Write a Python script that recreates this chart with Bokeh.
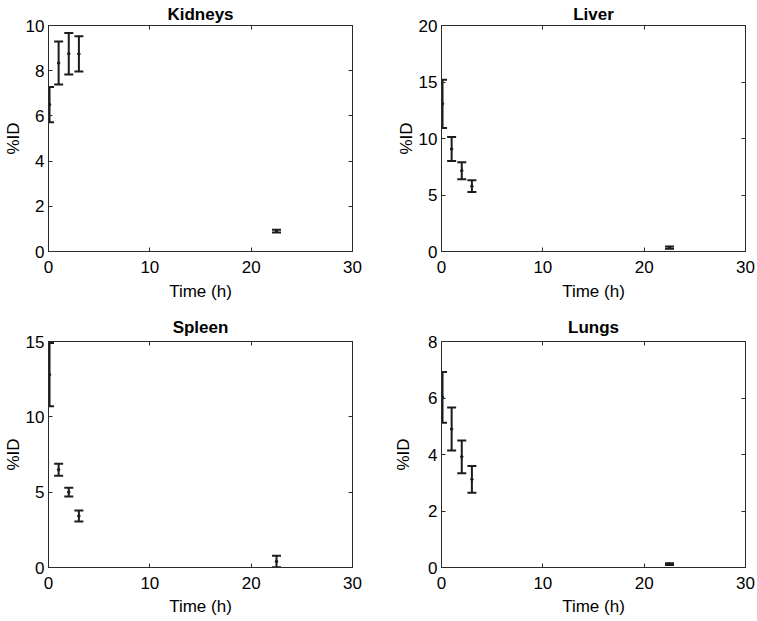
from bokeh.plotting import figure
from bokeh.models import (Range1d, FixedTicker, LinearAxis, Whisker, TeeHead,
                          ColumnDataSource)
from bokeh.layouts import row, column
from bokeh.embed import file_html
from bokeh.resources import INLINE

# ---------------- data ----------------
time_h = [0.1, 1, 2, 3, 22.5]
x_ticks = [0, 10, 20, 30]

kidneys_mean = [6.5, 8.34, 8.75, 8.74, 0.9]
kidneys_sd = [0.78, 0.95, 0.92, 0.78, 0.06]
kidneys_ticks = [0, 2, 4, 6, 8, 10]

liver_mean = [13.07, 9.07, 7.15, 5.78, 0.35]
liver_sd = [2.13, 1.07, 0.75, 0.52, 0.1]
liver_ticks = [0, 5, 10, 15, 20]

spleen_mean = [12.8, 6.49, 5.0, 3.42, 0.4]
spleen_sd = [2.1, 0.4, 0.29, 0.36, 0.38]
spleen_ticks = [0, 5, 10, 15]

lungs_mean = [6.02, 4.9, 3.92, 3.12, 0.12]
lungs_sd = [0.9, 0.76, 0.58, 0.47, 0.03]
lungs_ticks = [0, 2, 4, 6, 8]

x_label = "Time (h)"
y_label = "%ID"

FONT = "Liberation Sans"
FS = "17px"
AXC = "#2a2a2a"
BARC = "#1c1c1c"


def make_panel(title, mean, sd, yticks, left, right, top, bottom,
               title_standoff, ylab_standoff, xtick_standoff, xlab_standoff):
    p = figure(output_backend="svg", toolbar_location=None,
               frame_width=304, frame_height=226,
               min_border_left=left, min_border_right=right,
               min_border_top=top, min_border_bottom=bottom,
               x_range=Range1d(x_ticks[0], x_ticks[-1]),
               y_range=Range1d(yticks[0], yticks[-1]))
    p.background_fill_color = "white"
    p.border_fill_color = "white"
    p.outline_line_color = AXC
    p.xgrid.visible = False
    p.ygrid.visible = False

    p.title.text = title
    p.title.align = "center"
    p.title.text_font = FONT
    p.title.text_font_size = FS
    p.title.text_font_style = "bold"
    p.title.text_color = "black"
    p.title.standoff = title_standoff

    p.xaxis.ticker = FixedTicker(ticks=x_ticks)
    p.yaxis.ticker = FixedTicker(ticks=yticks)
    for ax in (p.xaxis[0], p.yaxis[0]):
        ax.major_tick_in = 4
        ax.major_tick_out = 0
        ax.minor_tick_line_color = None
        ax.axis_line_color = AXC
        ax.major_tick_line_color = AXC
        ax.major_label_text_font = FONT
        ax.major_label_text_font_size = FS
        ax.major_label_text_color = "black"
        ax.axis_label_text_font = FONT
        ax.axis_label_text_font_size = FS
        ax.axis_label_text_font_style = "normal"
        ax.axis_label_text_color = "black"
        ax.axis_label_text_line_height = 1.0
    p.xaxis.major_label_standoff = xtick_standoff
    p.yaxis.major_label_standoff = 4
    p.xaxis.axis_label = x_label
    p.xaxis.axis_label_standoff = xlab_standoff
    p.yaxis.axis_label = y_label
    p.yaxis.axis_label_standoff = ylab_standoff

    # box ticks on top and right (labels not drawn)
    top_ax = LinearAxis(ticker=FixedTicker(ticks=x_ticks))
    right_ax = LinearAxis(ticker=FixedTicker(ticks=yticks))
    for ax in (top_ax, right_ax):
        ax.major_tick_in = 4
        ax.major_tick_out = 0
        ax.minor_tick_line_color = None
        ax.major_label_text_font_size = "1px"
        ax.major_label_text_color = None
        ax.major_label_standoff = 0
        ax.axis_line_color = AXC
        ax.major_tick_line_color = AXC
    p.add_layout(top_ax, "above")
    p.add_layout(right_ax, "right")

    upper = [m + s for m, s in zip(mean, sd)]
    lower = [m - s for m, s in zip(mean, sd)]
    src = ColumnDataSource(dict(x=time_h, y=mean, upper=upper, lower=lower))
    w = Whisker(source=src, base="x", upper="upper", lower="lower",
                dimension="height", line_color=BARC, line_width=2,
                upper_head=TeeHead(size=9, line_color=BARC, line_width=2),
                lower_head=TeeHead(size=9, line_color=BARC, line_width=2))
    p.add_layout(w)
    p.scatter("x", "y", source=src, size=2.5, color=BARC)
    return p


p1 = make_panel("Kidneys", kidneys_mean, kidneys_sd, kidneys_ticks,
                48, 26, 25, 56, 4, 0, 9, 6)
p2 = make_panel("Liver", liver_mean, liver_sd, liver_ticks,
                63, 12, 25, 56, 4, 0, 9, 6)
p3 = make_panel("Spleen", spleen_mean, spleen_sd, spleen_ticks,
                48, 26, 34, 54, 9, 0, 9, 5)
p4 = make_panel("Lungs", lungs_mean, lungs_sd, lungs_ticks,
                63, 12, 34, 54, 9, 12, 9, 5)

layout = column(row(p1, p2), row(p3, p4))
open("out.html", "w").write(file_html(layout, INLINE))
